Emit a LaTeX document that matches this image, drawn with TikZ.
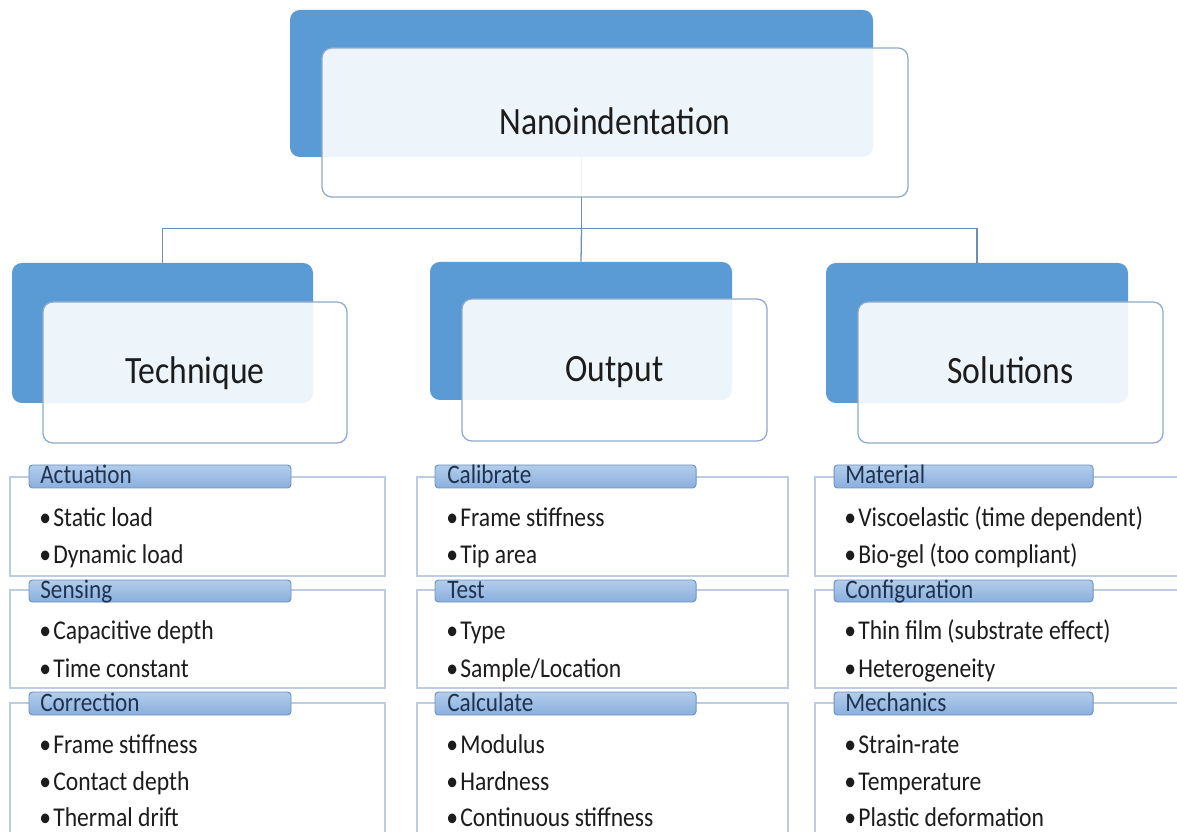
\documentclass[tikz,border=0pt]{standalone}
\usepackage{fontspec}
\setmainfont{Carlito}[FakeStretch=0.87]
\usetikzlibrary{fit,calc}
\definecolor{orgBlue}{HTML}{5B9BD5}
\definecolor{orgEdge}{HTML}{8EA9C9}
\definecolor{barTop}{HTML}{B3CDEC}
\definecolor{barBottom}{HTML}{89AFDD}
\definecolor{barEdge}{HTML}{6F93C0}
\definecolor{listEdge}{HTML}{BCCDE3}
\definecolor{linkLine}{HTML}{6F8DB5}
\definecolor{inkDark}{HTML}{1C1C1C}
\definecolor{inkBar}{HTML}{1F3350}

\newcommand{\itm}[1]{\makebox[10pt][l]{\textbullet}#1}

\begin{document}
\begin{tikzpicture}[x=0.025cm, y=-0.025cm,
      backBox/.style={rectangle, rounded corners=7pt, fill=orgBlue, inner sep=0pt},
      frontBox/.style={rectangle, rounded corners=7pt, draw=orgEdge, line width=0.9pt, fill=white, fill opacity=0.9, inner sep=0pt},
      headText/.style={anchor=base, inner sep=0pt, text=inkDark, font=\fontsize{27.5}{33}\selectfont},
      listBox/.style={rectangle, draw=listEdge, line width=1pt, inner sep=0pt},
      barBox/.style={rectangle, rounded corners=2.5pt, draw=barEdge, line width=0.7pt, top color=barTop, bottom color=barBottom, inner sep=0pt},
      barText/.style={anchor=base west, inner sep=0pt, text=inkBar, font=\fontsize{19}{23}\selectfont},
      item/.style={anchor=base west, inner sep=0pt, text=inkDark, font=\fontsize{19.3}{23}\selectfont},
      link/.style={draw=linkLine, line width=0.9pt}
    ]
      \clip (0,0) rectangle (1177,832);
      \fill[white] (0,0) rectangle (1177,832);

      % back boxes
      \node[backBox, fit={(290,10) (873,157)}] (topBack) {};
      \node[backBox, fit={(12,263) (313,403)}] (techBack) {};
      \node[backBox, fit={(430,262) (732,400)}] (outBack) {};
      \node[backBox, fit={(826,263) (1128,403)}] (solBack) {};

      % tree lines
      \path (topBack.south) ++(0,71) coordinate (bus);
      \draw[link] (topBack.south) -- (bus);
      \draw[link] (bus) -| (techBack.north);
      \draw[link] (bus) -- (outBack.north);
      \draw[link] (bus) -| (solBack.north);

      % front boxes
      \node[frontBox, fit={(322,48) (908,197)}] (topFront) {};
      \node[frontBox, fit={(43,302) (347,443)}] (techFront) {};
      \node[frontBox, fit={(462,299) (767,441)}] (outFront) {};
      \node[frontBox, fit={(858,302) (1163,443)}] (solFront) {};
      \node[headText] (topText) at ($(topFront.center)+(0,12.5)$) {Nanoindentation};
      \node[headText] (techText) at ($(techFront.center)+(0,11)$) {Technique};
      \node[headText] (outText) at ($(outFront.center)+(0,12)$) {Output};
      \node[headText] (solText) at ($(solFront.center)+(0,11)$) {Solutions};

      % Technique lists
      \node[listBox, fit={(10,477) (385,576)}] (actBox) {};
      \node[listBox, fit={(10,590) (385,688)}] (senBox) {};
      \node[listBox, fit={(10,703) (385,850)}] (corBox) {};
      \node[barBox, fit={(29,465) (291,488)}] (actBar) {};
      \node[barBox, fit={(29,580) (291,602)}] (senBar) {};
      \node[barBox, fit={(29,692) (291,715)}] (corBar) {};
      \node[barText] (actLabel) at (40,484) {Actuation};
      \node[barText] (senLabel) at (40,598) {Sensing};
      \node[barText] (corLabel) at (40,711) {Correction};
      \node[item] (actStatic) at (39,527) {\itm{Static load}};
      \node[item] (actDynamic) at (39,564) {\itm{Dynamic load}};
      \node[item] (senCap) at (39,639) {\itm{Capacitive depth}};
      \node[item] (senTime) at (39,677) {\itm{Time constant}};
      \node[item] (corFrame) at (39,753) {\itm{Frame stiffness}};
      \node[item] (corContact) at (39,790) {\itm{Contact depth}};
      \node[item] (corThermal) at (39,826) {\itm{Thermal drift}};

      % Output lists
      \node[listBox, fit={(417,477) (788,576)}] (calBox) {};
      \node[listBox, fit={(417,590) (788,688)}] (testBox) {};
      \node[listBox, fit={(417,703) (788,850)}] (calcBox) {};
      \node[barBox, fit={(435,465) (696,488)}] (calBar) {};
      \node[barBox, fit={(435,580) (696,602)}] (testBar) {};
      \node[barBox, fit={(435,692) (696,715)}] (calcBar) {};
      \node[barText] (calLabel) at (447,484) {Calibrate};
      \node[barText] (testLabel) at (447,598) {Test};
      \node[barText] (calcLabel) at (447,711) {Calculate};
      \node[item] (calFrame) at (446,527) {\itm{Frame stiffness}};
      \node[item] (calTip) at (446,564) {\itm{Tip area}};
      \node[item] (testType) at (446,639) {\itm{Type}};
      \node[item] (testSample) at (446,677) {\itm{Sample/Location}};
      \node[item] (calcModulus) at (446,753) {\itm{Modulus}};
      \node[item] (calcHardness) at (446,790) {\itm{Hardness}};
      \node[item] (calcCont) at (446,826) {\itm{Continuous stiffness}};

      % Solutions lists
      \node[listBox, fit={(815,477) (1190,576)}] (matBox) {};
      \node[listBox, fit={(815,590) (1190,688)}] (cfgBox) {};
      \node[listBox, fit={(815,703) (1190,850)}] (mechBox) {};
      \node[barBox, fit={(834,465) (1093,488)}] (matBar) {};
      \node[barBox, fit={(834,580) (1093,602)}] (cfgBar) {};
      \node[barBox, fit={(834,692) (1093,715)}] (mechBar) {};
      \node[barText] (matLabel) at (845,484) {Material};
      \node[barText] (cfgLabel) at (845,598) {Configuration};
      \node[barText] (mechLabel) at (845,711) {Mechanics};
      \node[item] (matVisco) at (844,527) {\itm{Viscoelastic (time dependent)}};
      \node[item] (matBio) at (844,564) {\itm{Bio-gel (too compliant)}};
      \node[item] (cfgThin) at (844,639) {\itm{Thin film (substrate effect)}};
      \node[item] (cfgHetero) at (844,677) {\itm{Heterogeneity}};
      \node[item] (mechStrain) at (844,753) {\itm{Strain-rate}};
      \node[item] (mechTemp) at (844,790) {\itm{Temperature}};
      \node[item] (mechPlastic) at (844,826) {\itm{Plastic deformation}};
    \end{tikzpicture}
\end{document}
